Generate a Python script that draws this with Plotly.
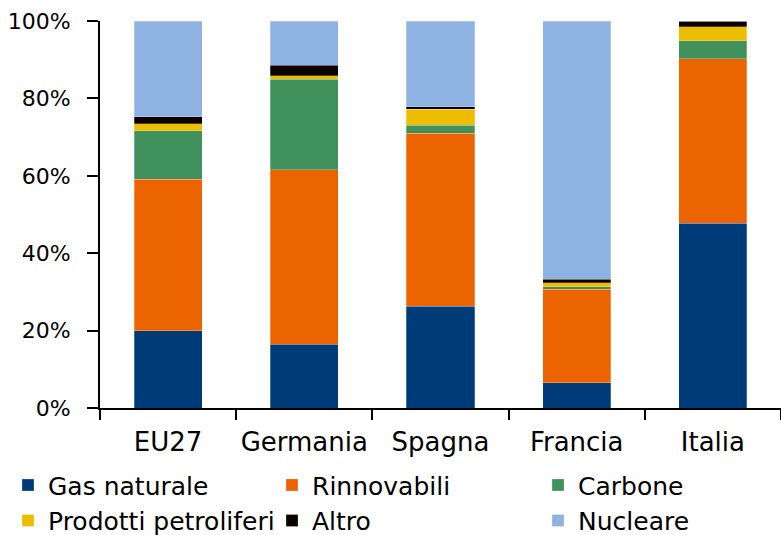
import plotly.graph_objects as go

categories = ["EU27", "Germania", "Spagna", "Francia", "Italia"]
gas_naturale = [20.0, 16.5, 26.3, 6.5, 47.8]
rinnovabili = [39.1, 45.1, 44.7, 24.2, 42.4]
carbone = [12.6, 23.4, 2.1, 0.6, 4.7]
prodotti_petroliferi = [1.8, 0.8, 4.1, 1.1, 3.6]
altro = [1.8, 2.8, 0.6, 0.9, 1.5]
nucleare = [24.7, 11.4, 22.2, 66.7, 0.0]
y_ticks = [0, 20, 40, 60, 80, 100]
y_tick_labels = ["0%", "20%", "40%", "60%", "80%", "100%"]

series = [
    ("Gas naturale", gas_naturale, "#003B79", "legend"),
    ("Rinnovabili", rinnovabili, "#EC6400", "legend2"),
    ("Carbone", carbone, "#40915C", "legend3"),
    ("Prodotti petroliferi", prodotti_petroliferi, "#EDBE00", "legend"),
    ("Altro", altro, "#0D0000", "legend2"),
    ("Nucleare", nucleare, "#8EB2E2", "legend3"),
]

fig = go.Figure()
for name, vals, col, leg in series:
    fig.add_trace(go.Bar(
        x=categories, y=vals, name=name, legend=leg,
        marker=dict(color=col, line=dict(color="rgba(255,255,255,0.5)", width=0.5)),
    ))

font_family = "'DejaVu Sans', sans-serif"
leg_common = dict(orientation="v", yanchor="top", xanchor="left", y=-0.14,
                  font=dict(size=25, family=font_family, color="black"),
                  itemwidth=30, bgcolor="rgba(0,0,0,0)", traceorder="normal")
fig.update_layout(
    barmode="stack",
    bargap=0.5,
    width=781, height=535,
    margin=dict(l=100, r=0, t=21, b=127, autoexpand=False),
    paper_bgcolor="white", plot_bgcolor="white",
    font=dict(family=font_family, size=22, color="#000000"),
    showlegend=True,
    legend=dict(x=-0.1351, **leg_common),
    legend2=dict(x=0.2526, **leg_common),
    legend3=dict(x=0.6432, **leg_common),
    xaxis=dict(
        showline=True, linecolor="black", linewidth=2,
        ticks="outside", tickson="boundaries", ticklen=10, tickcolor="black", tickwidth=2,
        tickfont=dict(size=26), showgrid=False, tickangle=0,
        ticklabelstandoff=10,
    ),
    yaxis=dict(
        range=[0, 100], tickvals=y_ticks, ticktext=y_tick_labels,
        showline=True, linecolor="black", linewidth=2,
        ticks="outside", ticklen=11, tickcolor="black", tickwidth=2,
        showgrid=False, zeroline=False, tickfont=dict(size=22),
        ticklabelstandoff=12,
    ),
)

fig.write_html(
    "out.html",
    config={"displayModeBar": False},
    post_script="document.body.style.margin='0';document.body.style.overflow='hidden';",
)
